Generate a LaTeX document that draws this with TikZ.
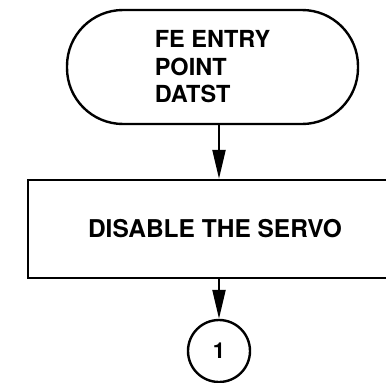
\documentclass[tikz,border=0pt]{standalone}
\usepackage{fontspec}
\setmainfont{TeX Gyre Heros}
\usetikzlibrary{arrows.meta}
\begin{document}
\begin{tikzpicture}[x=1pt,y=-1pt,
  outline/.style={draw=black,line width=2.4pt},
  term/.style={outline,rectangle,rounded corners=56pt,minimum width=291pt,minimum height=114pt,inner sep=0pt,align=left,
    font=\bfseries\fontsize{23.5}{27.5}\selectfont},
  procbox/.style={outline,rectangle,minimum width=382pt,minimum height=98pt,inner sep=0pt,
    font=\bfseries\fontsize{24.5}{29}\selectfont},
  conn/.style={outline,circle,minimum size=62pt,inner sep=0pt,font=\bfseries\fontsize{22}{26}\selectfont},
  flow/.style={line width=2.2pt,-{Triangle[length=29pt,width=13pt]}}
]
\useasboundingbox (0,0) rectangle (386,383);
\node[term] (start) at (212.5,67) {FE ENTRY\\POINT\\DATST};
\node[procbox] (servo) at (219,229) {\hspace*{-8pt}DISABLE THE SERVO};
\node[conn] (c1) at (219,351) {1};
\coordinate (s1) at (219,124);
\draw[flow] (s1) -- (s1 |- servo.north);
\draw[flow] (servo.south -| c1) -- (c1.north);
\end{tikzpicture}
\end{document}
